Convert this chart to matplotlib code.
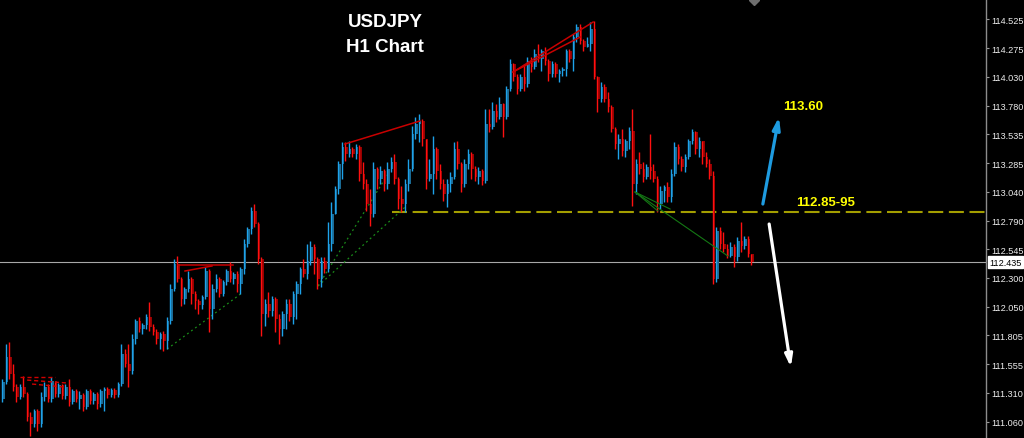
import matplotlib.pyplot as plt
import matplotlib as mpl
import matplotlib.transforms as mtransforms

mpl.rcParams["font.family"] = ["Liberation Sans", "DejaVu Sans"]

# ---- H1 candles (open of the first bar, then close / high / low of every bar)
first_open = 111.257
close = [
    111.403, 111.618, 111.472, 111.360, 111.274, 111.360, 111.300, 111.102, 111.042, 111.154,
    111.042, 111.274, 111.360, 111.257, 111.412, 111.300, 111.378, 111.283, 111.360, 111.231,
    111.326, 111.257, 111.292, 111.188, 111.326, 111.240, 111.300, 111.214, 111.326, 111.343,
    111.292, 111.335, 111.292, 111.386, 111.644, 111.558, 111.498, 111.773, 111.928, 111.859,
    111.893, 111.962, 111.876, 111.833, 111.773, 111.816, 111.756, 111.928, 112.203, 112.418,
    112.289, 112.117, 112.203, 112.289, 112.160, 112.100, 112.065, 112.134, 112.358, 112.031,
    112.203, 112.289, 112.160, 112.263, 112.358, 112.289, 112.332, 112.246, 112.375, 112.590,
    112.719, 112.874, 112.762, 112.461, 111.988, 112.074, 112.014, 112.117, 111.945, 111.859,
    111.988, 112.074, 111.962, 112.160, 112.246, 112.375, 112.332, 112.444, 112.564, 112.461,
    112.289, 112.444, 112.375, 112.590, 112.848, 113.063, 113.278, 113.424, 113.364, 113.407,
    113.364, 113.424, 113.192, 113.106, 112.934, 112.848, 113.235, 113.149, 113.218, 113.106,
    113.235, 113.295, 113.149, 112.977, 112.934, 113.106, 113.235, 113.536, 113.622, 113.648,
    113.493, 113.149, 113.192, 113.407, 113.218, 113.106, 113.020, 113.106, 113.166, 113.407,
    113.278, 113.106, 113.278, 113.364, 113.235, 113.166, 113.218, 113.132, 113.622, 113.596,
    113.734, 113.682, 113.794, 113.682, 113.923, 114.138, 114.026, 113.923, 114.026, 113.966,
    114.164, 114.112, 114.224, 114.181, 114.250, 114.164, 114.052, 114.138, 114.052, 114.078,
    114.095, 114.250, 114.181, 114.370, 114.456, 114.336, 114.284, 114.310, 114.439, 114.026,
    113.837, 113.940, 113.837, 113.768, 113.579, 113.450, 113.493, 113.390, 113.476, 113.562,
    113.106, 113.278, 113.235, 113.166, 113.252, 113.218, 113.149, 112.934, 113.046, 113.080,
    112.994, 113.192, 113.424, 113.321, 113.252, 113.338, 113.476, 113.553, 113.407, 113.476,
    113.338, 113.278, 113.175, 112.289, 112.702, 112.590, 112.547, 112.487, 112.564, 112.478,
    112.616, 112.573, 112.633, 112.504, 112.435,
]
high = [
    111.429, 111.730, 111.747, 111.558, 111.386, 111.386, 111.455, 111.318, 111.145, 111.171,
    111.171, 111.318, 111.403, 111.386, 111.446, 111.403, 111.395, 111.386, 111.386, 111.429,
    111.343, 111.343, 111.326, 111.309, 111.343, 111.343, 111.318, 111.318, 111.343, 111.360,
    111.360, 111.352, 111.352, 111.403, 111.730, 111.687, 111.730, 111.816, 111.945, 111.962,
    111.911, 111.988, 112.091, 111.902, 111.859, 111.833, 111.842, 111.962, 112.246, 112.461,
    112.487, 112.306, 112.220, 112.358, 112.306, 112.186, 112.117, 112.151, 112.392, 112.375,
    112.246, 112.332, 112.306, 112.280, 112.375, 112.435, 112.349, 112.358, 112.392, 112.633,
    112.736, 112.908, 112.934, 112.780, 112.478, 112.117, 112.177, 112.143, 112.134, 111.988,
    112.014, 112.117, 112.117, 112.186, 112.272, 112.392, 112.461, 112.590, 112.616, 112.590,
    112.478, 112.478, 112.478, 112.779, 112.951, 113.089, 113.304, 113.467, 113.467, 113.476,
    113.424, 113.450, 113.440, 113.295, 113.149, 113.063, 113.295, 113.252, 113.261, 113.235,
    113.295, 113.338, 113.364, 113.166, 113.089, 113.149, 113.321, 113.605, 113.682, 113.708,
    113.665, 113.493, 113.321, 113.519, 113.424, 113.278, 113.149, 113.149, 113.209, 113.467,
    113.476, 113.295, 113.321, 113.407, 113.381, 113.261, 113.252, 113.235, 113.751, 113.751,
    113.811, 113.794, 113.854, 113.802, 113.949, 114.181, 114.147, 114.052, 114.052, 114.138,
    114.198, 114.198, 114.267, 114.310, 114.267, 114.284, 114.181, 114.164, 114.155, 114.095,
    114.112, 114.267, 114.267, 114.396, 114.482, 114.482, 114.353, 114.370, 114.499, 114.508,
    114.035, 113.983, 113.966, 113.897, 113.785, 113.596, 113.536, 113.579, 113.493, 113.596,
    113.751, 113.321, 113.381, 113.295, 113.278, 113.536, 113.278, 113.175, 113.089, 113.097,
    113.123, 113.235, 113.467, 113.450, 113.347, 113.364, 113.493, 113.579, 113.562, 113.510,
    113.476, 113.381, 113.321, 113.218, 112.736, 112.736, 112.693, 112.590, 112.607, 112.590,
    112.650, 112.779, 112.659, 112.659, 112.504,
]
low = [
    111.231, 111.386, 111.429, 111.326, 111.231, 111.257, 111.274, 111.068, 110.939, 111.016,
    110.982, 111.016, 111.240, 111.231, 111.231, 111.274, 111.274, 111.257, 111.257, 111.197,
    111.214, 111.231, 111.171, 111.154, 111.171, 111.214, 111.214, 111.171, 111.188, 111.154,
    111.266, 111.274, 111.266, 111.274, 111.369, 111.532, 111.360, 111.472, 111.730, 111.833,
    111.816, 111.859, 111.842, 111.807, 111.730, 111.687, 111.670, 111.687, 111.902, 112.186,
    112.263, 112.057, 112.074, 112.177, 112.074, 112.031, 111.988, 112.031, 112.117, 111.833,
    111.945, 112.177, 112.134, 112.143, 112.237, 112.263, 112.246, 112.177, 112.160, 112.332,
    112.564, 112.676, 112.736, 112.418, 111.799, 111.885, 111.962, 111.971, 111.833, 111.730,
    111.799, 111.859, 111.928, 111.902, 111.945, 112.160, 112.306, 112.289, 112.409, 112.332,
    112.203, 112.220, 112.340, 112.349, 112.530, 112.848, 113.020, 113.149, 113.304, 113.338,
    113.338, 113.321, 113.132, 113.063, 112.874, 112.745, 112.822, 113.063, 113.106, 113.046,
    113.063, 113.209, 113.106, 112.891, 112.865, 112.865, 113.046, 113.218, 113.493, 113.467,
    113.433, 113.063, 113.132, 113.020, 113.149, 113.063, 112.960, 112.908, 113.037, 113.149,
    113.235, 113.037, 113.080, 113.235, 113.149, 113.132, 113.106, 113.097, 113.114, 113.553,
    113.579, 113.639, 113.665, 113.510, 113.665, 113.906, 113.992, 113.880, 113.906, 113.906,
    113.940, 114.069, 114.095, 114.155, 114.078, 114.129, 113.992, 114.026, 114.026, 113.983,
    114.035, 114.035, 114.155, 114.078, 114.327, 114.310, 114.250, 114.284, 114.250, 114.009,
    113.725, 113.811, 113.811, 113.725, 113.553, 113.407, 113.321, 113.347, 113.338, 113.407,
    112.917, 113.020, 113.192, 113.123, 113.149, 113.149, 113.123, 112.865, 112.891, 112.951,
    112.951, 112.951, 113.175, 113.278, 113.218, 113.209, 113.321, 113.450, 113.364, 113.338,
    113.278, 113.252, 113.149, 112.246, 112.263, 112.547, 112.521, 112.470, 112.478, 112.392,
    112.444, 112.521, 112.547, 112.478, 112.409,
]

# ---- price scale and levels
y_ticks = [114.525, 114.275, 114.030, 113.780, 113.535, 113.285, 113.040,
           112.790, 112.545, 112.300, 112.050, 111.805, 111.555, 111.310, 111.060]
last_price = 112.435
zone_level = 112.865
zone_start = 111        # bar where the dashed zone line begins
zone_label = "112.85-95"
target_label = "113.60"

# ---- drawn objects (bar index, price) -> (bar index, price)
red_lines = [(50, 112.409, 65.7, 112.409), (52, 112.358, 59.7, 112.401),
             (97.7, 113.450, 119.1, 113.648),
             (145.7, 114.069, 168.6, 114.499), (145.7, 114.069, 164.9, 114.370)]
red_dashed = [(4.9, 111.446, 14.9, 111.446), (6.9, 111.420, 18.3, 111.395),
              (8.3, 111.386, 17.7, 111.360)]
green_dotted = [(46.9, 111.687, 68.6, 112.177), (90, 112.229, 110, 113.192),
                (90, 112.229, 114.9, 112.908)]
green_solid = [(180.6, 113.037, 187.1, 112.874), (180.6, 113.037, 190.6, 112.891),
               (180.6, 113.037, 207.1, 112.487)]
up_arrow = (217.1, 112.934, 221.7, 113.682)
down_arrow = (218.9, 112.762, 225.1, 111.532)

opens = [first_open] + close[:-1]
idx = list(range(len(close)))
bull = [c >= o for o, c in zip(opens, close)]
body_col = ["#1a6a94" if b else "#960000" for b in bull]
wick_col = ["#1ea2ea" if b else "#ff1010" for b in bull]

fig = plt.figure(figsize=(10.24, 4.39), dpi=100, facecolor="black")
ax = fig.add_axes([0, 0, 986 / 1024, 1], facecolor="black")

# reference lines behind the candles
ax.axhline(last_price, color="#a8a8a8", lw=0.8, zorder=1)
ax.hlines(zone_level, zone_start, 300, color="#a39e00", lw=1.5,
          linestyles=(0, (7.2, 2.7)), zorder=1)

for x0, p0, x1, p1 in green_dotted:
    ax.plot([x0, x1], [p0, p1], color="#1a8c1a", lw=0.9, ls=(0, (1.5, 2.5)), zorder=2)

ax.bar([i + 0.1 for i in idx], [c - o for o, c in zip(opens, close)], bottom=opens,
       width=0.72, color=body_col, linewidth=0, zorder=3)
ax.vlines([i - 0.28 for i in idx], low, high, colors=wick_col, lw=1.0, zorder=4)

for x0, p0, x1, p1 in red_lines:
    ax.plot([x0, x1], [p0, p1], color="#c80000", lw=1.1, zorder=5)
for x0, p0, x1, p1 in red_dashed:
    ax.plot([x0, x1], [p0, p1], color="#d00000", lw=1.0, ls=(0, (3, 2)), zorder=5)
for x0, p0, x1, p1 in green_solid:
    ax.plot([x0, x1], [p0, p1], color="#147814", lw=0.8, zorder=5)

ax.annotate("", xy=up_arrow[2:], xytext=up_arrow[:2],
            arrowprops=dict(arrowstyle="-|>,head_length=0.7,head_width=0.22",
                            color="#1e9be0", lw=2.3, shrinkA=0, shrinkB=0), zorder=6)
ax.annotate("", xy=down_arrow[2:], xytext=down_arrow[:2],
            arrowprops=dict(arrowstyle="-|>,head_length=0.7,head_width=0.22",
                            color="white", lw=2.3, shrinkA=0, shrinkB=0), zorder=6)
ax.text(228.6, 113.777, target_label, color="#ffff00", fontsize=9.5,
        fontweight="bold", ha="center", va="center", zorder=7)
ax.text(234.9, 112.951, zone_label, color="#ffff00", fontsize=9.5,
        fontweight="bold", ha="center", va="center", zorder=7)

# chart shift marker at the top
ax.plot([214.5], [0.997], marker="D", ms=5, color="#6e6e6e",
        transform=mtransforms.blended_transform_factory(ax.transData, ax.transAxes),
        clip_on=False, zorder=8)

ax.set_xlim(-3 / 3.5, 983 / 3.5)
ax.set_ylim(110.922, 114.697)
ax.set_xticks([])
ax.yaxis.tick_right()
ax.set_yticks(y_ticks)
ax.set_yticklabels([f"{v:.3f}" for v in y_ticks])
ax.tick_params(axis="y", colors="#9a9a9a", labelcolor="#ececec", length=2.5,
               width=0.8, pad=1.0, labelsize=6.6)
for side in ["top", "left", "bottom"]:
    ax.spines[side].set_visible(False)
ax.spines["right"].set_color("#8c8c8c")
ax.spines["right"].set_linewidth(1.0)

# current price box on the scale
trans = mtransforms.blended_transform_factory(ax.transAxes, ax.transData)
ax.text(1.003, last_price, f"{last_price:.3f}", transform=trans, ha="left",
        va="center", fontsize=6.6, color="black", clip_on=False,
        bbox=dict(boxstyle="square,pad=0.15", fc="white", ec="white"))

fig.text(385 / 1024, 1 - 22.5 / 439, "USDJPY", ha="center", va="center",
         color="white", fontsize=13.5, fontweight="bold")
fig.text(385 / 1024, 1 - 48 / 439, "H1 Chart", ha="center", va="center",
         color="white", fontsize=13.5, fontweight="bold")

fig.savefig("out.png", dpi=100, facecolor="black")
